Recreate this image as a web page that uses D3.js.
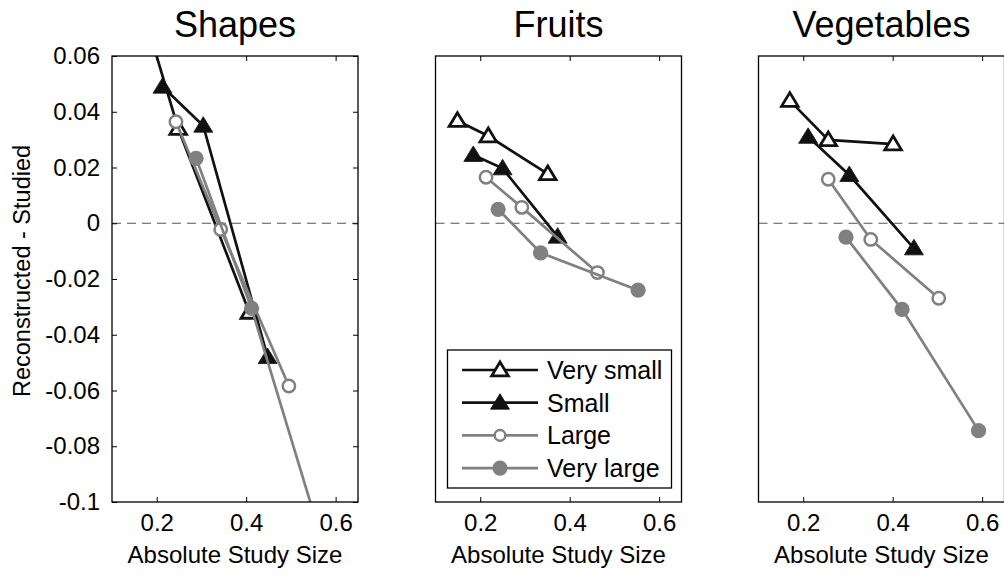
<!DOCTYPE html>
<html>
<head>
<meta charset="utf-8">
<script src="https://cdn.jsdelivr.net/npm/d3@7"></script>
<style>
  html, body { margin: 0; padding: 0; background: #fff; }
  svg { display: block; font-family: "Liberation Sans", Arial, Helvetica, sans-serif; }
</style>
</head>
<body>
<svg id="chart" width="1004" height="575"></svg>
<script>
// ---------------- data ----------------
const panelTitles = ["Shapes", "Fruits", "Vegetables"];
const seriesNames = ["Very small", "Small", "Large", "Very large"];
const xTicks = [0.2, 0.4, 0.6];
const yTicks = [0.06, 0.04, 0.02, 0, -0.02, -0.04, -0.06, -0.08, -0.1];
const yTickLabels = ["0.06", "0.04", "0.02", "0", "-0.02", "-0.04", "-0.06", "-0.08", "-0.1"];
const xLabel = "Absolute Study Size";
const yLabel = "Reconstructed - Studied";

// per panel: one array per series (Very small, Small, Large, Very large)
const shapesX = [[0.17, 0.248, 0.407], [0.213, 0.304, 0.448], [0.243, 0.343, 0.4955], [0.288, 0.412, 0.60]];
const shapesY = [[0.076, 0.034, -0.032], [0.049, 0.035, -0.048], [0.0364, -0.0022, -0.0584], [0.0233, -0.0305, -0.13]];
const fruitsX = [[0.149, 0.218, 0.351], [0.1845, 0.250, 0.373], [0.213, 0.293, 0.462], [0.240, 0.335, 0.553]];
const fruitsY = [[0.0368, 0.0313, 0.0177], [0.0245, 0.0197, -0.0048], [0.0165, 0.0057, -0.0177], [0.005, -0.0106, -0.024]];
const vegX = [[0.170, 0.256, 0.401], [0.211, 0.303, 0.4475], [0.256, 0.351, 0.503], [0.2955, 0.421, 0.592]];
const vegY = [[0.044, 0.0299, 0.0284], [0.031, 0.0173, -0.009], [0.0158, -0.0058, -0.0269], [-0.005, -0.0309, -0.0744]];

const panelXs = [shapesX, fruitsX, vegX];
const panelYs = [shapesY, fruitsY, vegY];

// ---------------- styles ----------------
const BLACK = "#111111";
const GRAY = "#808080";
const seriesStyle = [
  { color: BLACK, marker: "tri", filled: false },
  { color: BLACK, marker: "tri", filled: true },
  { color: GRAY, marker: "circ", filled: false },
  { color: GRAY, marker: "circ", filled: true }
];

const svg = d3.select("#chart");
const panelLefts = [112, 435.5, 758.5];
const panelW = 246, plotTop = 56, plotBottom = 502;
const H = plotBottom - plotTop;

const x = d3.scaleLinear().domain([0.1, 0.65]).range([0, panelW]);
const y = d3.scaleLinear().domain([-0.1, 0.06]).range([H, 0]);

const triFilled = "M0,-9L9.5,6.5L-9.5,6.5Z";
const triOpen = "M0,-8L8.3,5.8L-8.3,5.8Z";

function drawMarker(g, st, cx, cy, legend) {
  if (st.marker === "tri") {
    g.append("path").attr("d", st.filled ? triFilled : triOpen)
      .attr("transform", `translate(${cx},${cy})`)
      .attr("fill", st.filled ? st.color : "#fff")
      .attr("stroke", st.color)
      .attr("stroke-width", st.filled ? 0.8 : 2.8)
      .attr("stroke-linejoin", "miter");
  } else {
    if (st.filled) {
      g.append("circle").attr("cx", cx).attr("cy", cy).attr("r", 7.6).attr("fill", st.color);
    } else {
      g.append("circle").attr("cx", cx).attr("cy", cy).attr("r", legend ? 5.3 : 6.2)
        .attr("fill", "#fff").attr("stroke", st.color).attr("stroke-width", 2.5);
    }
  }
}

panelTitles.forEach((title, p) => {
  const g = svg.append("g").attr("transform", `translate(${panelLefts[p]},${plotTop})`);

  g.append("clipPath").attr("id", "clip" + p)
    .append("rect").attr("x", 0).attr("y", 0).attr("width", panelW).attr("height", H);

  // zero dashed line
  g.append("line").attr("x1", 0).attr("x2", panelW).attr("y1", y(0)).attr("y2", y(0))
    .attr("stroke", "#555").attr("stroke-width", 1.1).attr("stroke-dasharray", "9,6");

  // series
  const plot = g.append("g").attr("clip-path", `url(#clip${p})`);
  seriesNames.forEach((name, s) => {
    const st = seriesStyle[s];
    const xs = panelXs[p][s], ys = panelYs[p][s];
    const pts = xs.map((v, i) => [x(v), y(ys[i])]);
    plot.append("path").attr("d", d3.line()(pts))
      .attr("fill", "none").attr("stroke", st.color).attr("stroke-width", 2.7);
    pts.forEach(pt => drawMarker(plot, st, pt[0], pt[1], false));
  });

  // axes
  const xb = g.append("g").attr("transform", `translate(0,${H})`)
    .call(d3.axisBottom(x).tickValues(xTicks).tickSizeInner(-5).tickSizeOuter(0).tickPadding(12)
      .tickFormat(d3.format(".1f")));
  xb.select(".domain").remove();
  xb.selectAll("text").attr("font-size", 24).attr("fill", "#000").attr("font-family", null);
  xb.selectAll("line").attr("stroke", "#000");

  const xt = g.append("g")
    .call(d3.axisTop(x).tickValues(xTicks).tickSizeInner(-5).tickSizeOuter(0).tickFormat(""));
  xt.select(".domain").remove();
  xt.selectAll("line").attr("stroke", "#000");

  if (p === 0) {
    const yl = g.append("g")
      .call(d3.axisLeft(y).tickValues(yTicks).tickSizeInner(-5).tickSizeOuter(0).tickPadding(12)
        .tickFormat((d, i) => yTickLabels[i]));
    yl.select(".domain").remove();
    yl.selectAll("text").attr("font-size", 24).attr("fill", "#000").attr("font-family", null);
    yl.selectAll("line").attr("stroke", "#000");
    const yr = g.append("g").attr("transform", `translate(${panelW},0)`)
      .call(d3.axisRight(y).tickValues(yTicks).tickSizeInner(-5).tickSizeOuter(0).tickFormat(""));
    yr.select(".domain").remove();
    yr.selectAll("line").attr("stroke", "#000");

    svg.append("text")
      .attr("transform", `translate(30,${(plotTop + plotBottom) / 2 - 8}) rotate(-90)`)
      .attr("text-anchor", "middle").attr("font-size", 23.5).attr("fill", "#000")
      .text(yLabel);
  }

  // box
  g.append("rect").attr("x", 0).attr("y", 0).attr("width", panelW).attr("height", H)
    .attr("fill", "none").attr("stroke", "#000").attr("stroke-width", 1.3);

  // title
  g.append("text").attr("x", panelW / 2).attr("y", -19).attr("text-anchor", "middle")
    .attr("font-size", 36).attr("fill", "#000").text(title);

  // x label
  g.append("text").attr("x", panelW / 2).attr("y", 563 - plotTop).attr("text-anchor", "middle")
    .attr("font-size", 24).attr("fill", "#000").text(xLabel);

  // legend in Fruits panel
  if (p === 1) {
    const lg = svg.append("g");
    lg.append("rect").attr("x", 447.5).attr("y", 350).attr("width", 224).attr("height", 138)
      .attr("fill", "#fff").attr("stroke", "#000").attr("stroke-width", 1.3);
    const rowY = [370, 402.7, 435.4, 468.1];
    seriesNames.forEach((name, s) => {
      const st = seriesStyle[s];
      lg.append("line").attr("x1", 462).attr("x2", 538).attr("y1", rowY[s]).attr("y2", rowY[s])
        .attr("stroke", st.color).attr("stroke-width", 2.7);
      drawMarker(lg, st, 500, rowY[s], true);
      lg.append("text").attr("x", 547).attr("y", rowY[s]).attr("dy", "0.36em")
        .attr("font-size", 25).attr("fill", "#000").text(name);
    });
  }
});
</script>
</body>
</html>
